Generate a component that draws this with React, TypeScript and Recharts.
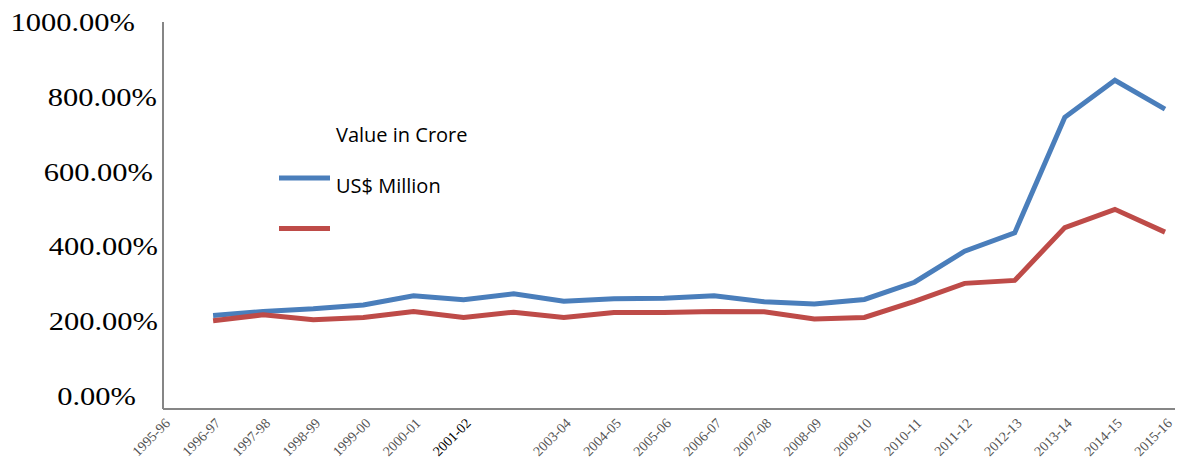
import { Legend, Line, LineChart, XAxis, YAxis } from "recharts"

const categories = [
  "1995-96", "1996-97", "1997-98", "1998-99", "1999-00", "2000-01", "2001-02",
  "2002-03", "2003-04", "2004-05", "2005-06", "2006-07", "2007-08", "2008-09",
  "2009-10", "2010-11", "2011-12", "2012-13", "2013-14", "2014-15", "2015-16",
]

// the 2002-03 label is missing in the original
const tickLabels = categories.map((c) => (c === "2002-03" ? "" : c))

const valueInCrore = [
  null, 215, 226, 233, 243, 268, 257, 273, 253, 260, 261,
  268, 252, 246, 258, 304, 387, 436, 745, 844, 767,
]

const usdMillion = [
  null, 201, 217, 204, 210, 226, 210, 224, 210, 223, 223,
  226, 225, 206, 210, 253, 301, 309, 450, 499, 438,
]

const yTicks = [0, 200, 400, 600, 800, 1000]

const BLUE = "#4a7ebb"
const RED = "#be4b48"
const AXIS = "#868686"

// the original labels are not right-aligned consistently
const Y_NUDGE: Record<number, number> = { 0: -27, 200: -5, 400: -5, 600: -10, 800: -6, 1000: -28 }

const data = categories.map((year, i) => ({
  year,
  label: tickLabels[i],
  crore: valueInCrore[i],
  usd: usdMillion[i],
}))

function YTick({ x, y, payload }: any) {
  const v = payload.value as number
  return (
    <g transform={`translate(${x + (Y_NUDGE[v] ?? 0)},${y}) scale(1.22,1)`}>
      <text
        x={0}
        y={0}
        dy="0.36em"
        textAnchor="end"
        fontFamily='"Liberation Serif", "Times New Roman", serif'
        fontSize={25}
        fill="#000"
      >
        {`${v.toFixed(2)}%`}
      </text>
    </g>
  )
}

function XTick({ x, y, index }: any) {
  const label = tickLabels[index]
  if (!label) return null
  const crisp = label === "2001-02"
  return (
    <g transform={`translate(${x + 8},${y + 15}) rotate(-45)`}>
      <text
        x={0}
        y={0}
        textAnchor="end"
        fontFamily='"Liberation Serif", "Times New Roman", serif'
        fontSize={14}
        fill={crisp ? "#000" : "#555"}
      >
        {label}
      </text>
    </g>
  )
}

function LegendBox() {
  return (
    <svg width={240} height={130} style={{ display: "block" }}>
      <text x={57} y={32} fontFamily='"Open Sans", sans-serif' fontSize={20} fill="#000">
        Value in Crore
      </text>
      <rect x={0} y={65.5} width={51} height={5} fill={BLUE} />
      <text x={57} y={83} fontFamily='"Open Sans", sans-serif' fontSize={20} fill="#000">
        US$ Million
      </text>
      <rect x={0} y={116} width={51} height={5} fill={RED} />
    </svg>
  )
}

export default function App() {
  return (
    <div style={{ position: "absolute", left: 0, top: 0, width: 1179, height: 462, background: "#fff" }}>
      <LineChart width={1179} height={462} data={data} margin={{ top: 22, right: 4, left: 0, bottom: 0 }}>
        <XAxis
          dataKey="year"
          height={53}
          interval={0}
          padding={{ left: 0, right: 10 }}
          tick={<XTick />}
          tickLine={false}
          tickSize={0}
          tickMargin={0}
          axisLine={{ stroke: AXIS, strokeWidth: 2 }}
        />
        <YAxis
          width={163}
          domain={[-35, 1000]}
          ticks={yTicks}
          interval={0}
          tick={<YTick />}
          tickLine={false}
          tickSize={0}
          tickMargin={0}
          axisLine={{ stroke: AXIS, strokeWidth: 2 }}
        />
        <Legend
          layout="vertical"
          align="center"
          verticalAlign="middle"
          content={<LegendBox />}
          wrapperStyle={{ left: 279, top: 110, width: 240, height: 130 }}
        />
        <Line
          type="linear"
          dataKey="crore"
          stroke={BLUE}
          strokeWidth={5}
          dot={false}
          activeDot={false}
          isAnimationActive={false}
        />
        <Line
          type="linear"
          dataKey="usd"
          stroke={RED}
          strokeWidth={5}
          dot={false}
          activeDot={false}
          isAnimationActive={false}
        />
      </LineChart>
    </div>
  )
}
